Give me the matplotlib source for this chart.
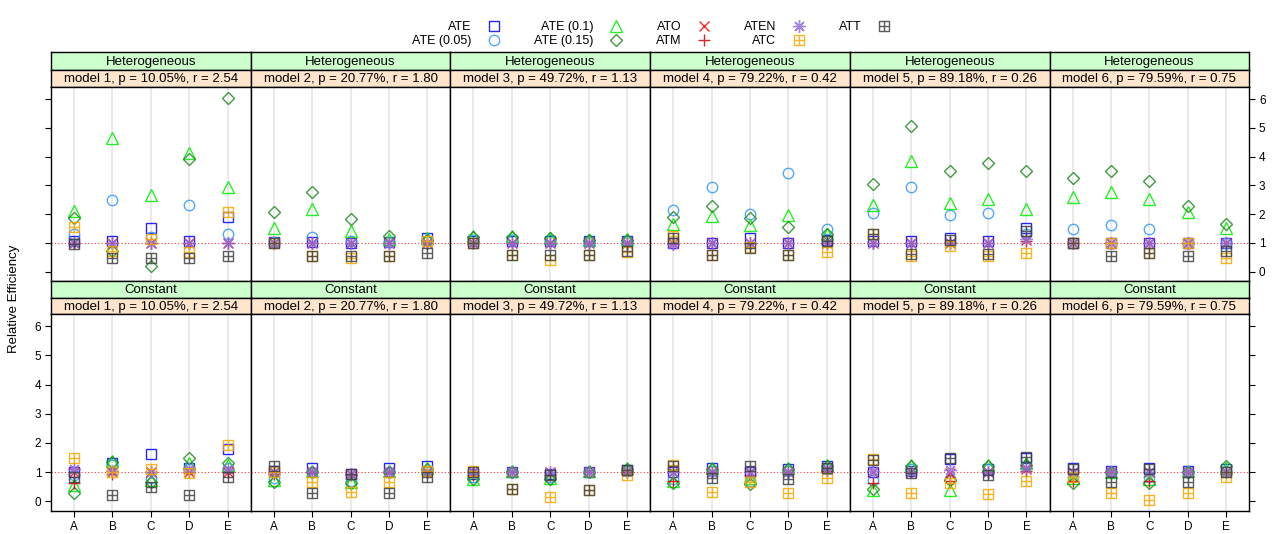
import numpy as np
import matplotlib
matplotlib.use("Agg")
from matplotlib import pyplot
from matplotlib.path import Path

pyplot.rcParams["font.family"] = ["Liberation Sans", "DejaVu Sans"]

# ---- data -------------------------------------------------------------
categories = ["A", "B", "C", "D", "E"]
types = ["Heterogeneous", "Constant"]
model_p = ["10.05%", "20.77%", "49.72%", "79.22%", "89.18%", "79.59%"]
model_r = ["2.54", "1.80", "1.13", "0.42", "0.26", "0.75"]

# rows: Heterogeneous model 1..6, then Constant model 1..6
ate = [
    [1.05, 1.06, 1.52, 1.06, 1.89], [1.03, 1.02, 1.00, 1.02, 1.15],
    [1.05, 1.05, 1.05, 1.05, 1.05], [1.00, 1.00, 1.15, 1.00, 1.10],
    [1.05, 1.06, 1.17, 1.06, 1.52], [1.00, 1.00, 1.00, 1.00, 1.00],
    [1.00, 1.31, 1.64, 1.14, 1.81], [1.05, 1.14, 0.95, 1.14, 1.20],
    [0.95, 1.00, 0.95, 1.00, 1.08], [1.00, 1.14, 1.00, 1.10, 1.20],
    [1.00, 1.05, 1.45, 1.10, 1.50], [1.14, 1.05, 1.14, 1.05, 1.10],
]
ate_05 = [
    [1.32, 2.50, 1.20, 2.33, 1.32], [1.02, 1.21, 1.05, 1.02, 1.05],
    [1.10, 1.10, 1.10, 1.05, 1.05], [2.15, 2.93, 2.00, 3.42, 1.48],
    [2.04, 2.94, 1.96, 2.04, 1.30], [1.48, 1.63, 1.48, 1.00, 1.00],
    [0.90, 1.25, 0.80, 1.10, 1.15], [0.80, 1.00, 0.70, 1.00, 1.05],
    [0.85, 1.00, 0.85, 1.00, 1.05], [0.75, 1.05, 0.70, 1.05, 1.10],
    [0.73, 1.10, 0.75, 1.10, 1.20], [0.85, 1.00, 0.85, 1.00, 1.05],
]
ate_10 = [
    [2.12, 4.66, 2.65, 4.14, 2.94], [1.50, 2.18, 1.40, 1.12, 1.15],
    [1.25, 1.22, 1.18, 1.10, 1.14], [1.66, 1.92, 1.63, 1.96, 1.31],
    [2.33, 3.85, 2.38, 2.52, 2.19], [2.58, 2.76, 2.53, 2.06, 1.52],
    [0.55, 1.37, 0.73, 1.30, 1.25], [0.73, 1.05, 0.67, 1.05, 1.15],
    [0.78, 1.05, 0.80, 1.05, 1.15], [0.70, 1.15, 0.80, 1.15, 1.26],
    [0.38, 1.26, 0.38, 1.25, 1.30], [0.79, 1.00, 0.75, 1.05, 1.15],
]
ate_15 = [
    [1.87, 0.71, 0.19, 3.90, 6.02], [2.06, 2.78, 1.84, 1.23, 1.10],
    [1.20, 1.20, 1.15, 1.10, 1.10], [1.89, 2.27, 1.87, 1.54, 1.29],
    [3.05, 5.07, 3.51, 3.79, 3.51], [3.25, 3.50, 3.16, 2.27, 1.67],
    [0.30, 1.35, 0.68, 1.49, 1.31], [0.67, 1.00, 0.62, 1.00, 1.10],
    [0.75, 1.00, 0.75, 1.00, 1.10], [0.62, 1.10, 0.60, 1.10, 1.20],
    [0.44, 1.20, 0.73, 1.20, 1.26], [0.62, 1.00, 0.64, 1.00, 1.20],
]
ato = [
    [1.00, 1.00, 1.00, 1.00, 1.00], [1.00, 1.00, 1.00, 1.00, 1.00],
    [1.00, 1.00, 1.00, 1.00, 1.00], [1.00, 1.00, 1.00, 1.00, 1.00],
    [1.00, 1.00, 1.00, 1.00, 1.10], [1.00, 1.00, 1.00, 1.00, 1.00],
    [1.00, 1.00, 1.00, 1.00, 1.00], [1.00, 1.00, 0.95, 1.00, 1.00],
    [1.00, 1.00, 1.00, 1.00, 1.05], [1.00, 1.00, 1.00, 1.00, 1.10],
    [1.00, 1.00, 0.97, 1.00, 1.10], [1.00, 1.00, 1.00, 1.00, 1.00],
]
atm = [
    [0.98, 1.00, 1.00, 1.00, 1.00], [1.00, 1.00, 1.00, 1.00, 1.00],
    [1.00, 1.00, 1.00, 1.00, 1.00], [0.95, 1.00, 1.00, 1.00, 1.00],
    [0.98, 1.00, 1.00, 1.00, 1.05], [1.00, 1.00, 1.00, 1.00, 1.00],
    [0.64, 0.95, 1.00, 1.00, 1.00], [0.95, 1.00, 0.90, 1.00, 1.00],
    [0.90, 1.00, 0.90, 1.00, 1.00], [0.70, 1.00, 0.90, 1.00, 1.05],
    [0.62, 1.00, 0.70, 1.00, 1.05], [0.70, 1.00, 0.70, 1.00, 1.00],
]
aten = [
    [1.00, 1.00, 1.00, 1.00, 1.00], [1.00, 1.00, 1.00, 1.00, 1.00],
    [1.00, 1.00, 1.00, 1.00, 1.00], [0.95, 1.00, 1.00, 1.00, 1.00],
    [1.00, 1.00, 1.00, 1.00, 1.12], [1.00, 1.00, 1.00, 1.00, 1.00],
    [1.10, 1.05, 1.00, 1.10, 1.10], [1.00, 1.00, 0.95, 1.00, 1.00],
    [1.00, 1.00, 1.00, 1.00, 1.05], [1.00, 1.00, 1.00, 1.00, 1.10],
    [1.05, 1.00, 1.08, 1.00, 1.14], [1.00, 1.00, 1.00, 1.00, 1.00],
]
atc = [
    [1.55, 0.73, 1.12, 0.68, 2.07], [1.00, 0.54, 0.46, 0.54, 1.05],
    [1.00, 0.58, 0.39, 0.58, 0.68], [1.23, 0.56, 0.85, 0.56, 0.68],
    [1.32, 0.54, 0.88, 0.54, 0.65], [1.00, 1.00, 0.63, 1.00, 0.46],
    [1.50, 1.00, 1.12, 0.97, 1.92], [1.00, 0.67, 0.33, 0.67, 1.05],
    [1.05, 0.41, 0.15, 0.38, 0.90], [1.26, 0.33, 0.67, 0.30, 0.79],
    [1.45, 0.27, 0.62, 0.25, 0.70], [0.85, 0.27, 0.06, 0.27, 0.85],
]
att = [
    [0.97, 0.48, 0.48, 0.48, 0.54], [1.00, 0.54, 0.54, 0.54, 0.63],
    [1.00, 0.58, 0.56, 0.58, 0.71], [1.17, 0.56, 0.83, 0.56, 1.05],
    [1.29, 0.60, 1.08, 0.60, 1.40], [1.00, 0.54, 0.63, 0.54, 0.71],
    [0.85, 0.23, 0.50, 0.23, 0.85], [1.20, 0.27, 0.94, 0.27, 0.85],
    [1.02, 0.41, 0.90, 0.38, 1.08], [1.20, 0.79, 1.20, 0.77, 1.15],
    [1.43, 0.97, 1.47, 0.90, 1.52], [1.12, 0.67, 1.10, 0.67, 1.00],
]

labels = ["ATE", "ATE (0.05)", "ATE (0.1)", "ATE (0.15)", "ATO", "ATM",
          "ATEN", "ATC", "ATT"]
series = [ate, ate_05, ate_10, ate_15, ato, atm, aten, atc, att]

# ---- styles ------------------------------------------------------------
boxplus = Path(
    [(-1, -1), (1, -1), (1, 1), (-1, 1), (-1, -1), (0, -1), (0, 1), (-1, 0), (1, 0)],
    [Path.MOVETO, Path.LINETO, Path.LINETO, Path.LINETO, Path.CLOSEPOLY,
     Path.MOVETO, Path.LINETO, Path.MOVETO, Path.LINETO],
)
colors = ["#0000ff", "#3399ff", "#00ee00", "#228b22", "#ff0000", "#cc0000",
          "#9370db", "#f5a800", "#404040"]
markers = ["s", "o", "^", "D", "x", "+", (8, 2, 0), boxplus, boxplus]
sizes = [7.5, 7.5, 8.5, 6.5, 7, 9, 9, 7, 7]

W, H = 1279, 534
fig = pyplot.figure(figsize=(W / 100, H / 100), dpi=100)


def fbox(x0, y0, x1, y1):
    """pixel box -> figure fraction rect"""
    return [x0 / W, 1 - y1 / H, (x1 - x0) / W, (y1 - y0) / H]


left, pw = 51, 199.7
rows = [(52, 70, 87, 281), (281, 298, 314, 511)]
ylim = (-0.33, 6.42)
x = np.arange(1, 6)

handles = []
for r, (s1, s2, ptop, pbot) in enumerate(rows):
    for c in range(6):
        k = r * 6 + c
        x0, x1 = left + c * pw, left + (c + 1) * pw

        # strips
        for (ya, yb, col, txt) in [
            (s1, s2, "#ccffcc", types[r]),
            (s2, ptop, "#ffe5cc", "model {}, p = {}, r = {}".format(c + 1, model_p[c], model_r[c])),
        ]:
            sax = fig.add_axes(fbox(x0, ya, x1, yb))
            sax.set_facecolor(col)
            sax.set_xticks([])
            sax.set_yticks([])
            for sp in sax.spines.values():
                sp.set_linewidth(1.0)
            sax.text(0.5, 0.45, txt, ha="center", va="center", fontsize=9.5,
                     transform=sax.transAxes)

        ax = fig.add_axes(fbox(x0, ptop, x1, pbot))
        ax.set_xlim(0.4, 5.6)
        ax.set_ylim(*ylim)
        for xv in x:
            ax.axvline(xv, color="#e6e6e6", lw=1.2, zorder=0)
        ax.axhline(1, color="red", lw=0.8, ls=(0, (1, 2)), alpha=0.8, zorder=1)

        for vals, lab, colr, mk, ms in zip(series, labels, colors, markers, sizes):
            ln, = ax.plot(x, vals[k], ls="none", marker=mk, ms=ms, mfc="none",
                          mec=colr, mew=1.0, alpha=0.85, label=lab, zorder=2)
            if k == 0:
                handles.append(ln)

        ax.set_yticks(range(7))
        ax.set_xticks(x)
        ax.tick_params(direction="out", length=4, width=0.8, labelsize=8.5,
                       left=(c == 0), right=(c == 5),
                       labelleft=(c == 0 and r == 1), labelright=(c == 5 and r == 0),
                       bottom=(r == 1), labelbottom=(r == 1), pad=3)
        ax.set_xticklabels(categories)
        for sp in ax.spines.values():
            sp.set_linewidth(1.0)

fig.text(14 / W, 1 - 299 / H, "Relative Efficiency", rotation=90,
         ha="center", va="center", fontsize=9.5)

fig.legend(handles, labels, loc="upper center", bbox_to_anchor=(652 / W, 1 - 10 / H),
           ncol=5, frameon=False, markerfirst=False, fontsize=9,
           handletextpad=1.2, columnspacing=2.6, labelspacing=0.15,
           handlelength=1.2)

fig.savefig("out.png", dpi=100)
